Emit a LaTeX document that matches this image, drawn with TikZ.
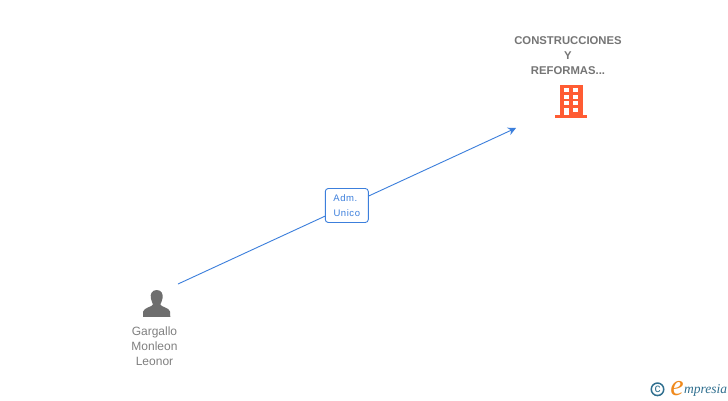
\documentclass[tikz,border=0pt]{standalone}
\usepackage{fontspec}
\setmainfont{Liberation Sans}
\newfontfamily\logofont{Liberation Serif}
\newfontfamily\spacedfont[LetterSpace=6]{Liberation Sans}
\definecolor{linkblue}{HTML}{3C7FDC}
\definecolor{labelgrey}{HTML}{808080}
\definecolor{firmgrey}{HTML}{757575}
\definecolor{darkgrey}{HTML}{6E6E6E}
\definecolor{bldg}{HTML}{FF5C33}
\definecolor{teal}{HTML}{2F6F8F}
\definecolor{logoorange}{HTML}{F08A1D}
\usetikzlibrary{arrows.meta}
\tikzset{
  linkline/.style={draw=linkblue,line width=0.9pt,-{Stealth[length=8pt,width=8pt]}},
  linkbox/.style={draw=linkblue,line width=0.9pt,rounded corners=3pt,fill=white,minimum width=43pt,minimum height=34pt,inner sep=0pt,align=center,text=linkblue,font=\spacedfont\fontsize{9.5}{15}\selectfont},
  persontext/.style={text=labelgrey,align=center,font=\fontsize{12}{15.3}\selectfont,inner sep=0pt},
  firmtext/.style={text=firmgrey,align=center,font=\fontsize{11.3}{15}\bfseries\selectfont,inner sep=0pt},
}
\begin{document}
\begin{tikzpicture}[x=1pt,y=-1pt]
\useasboundingbox (0,0) rectangle (728,400);
\fill[white] (0,0) rectangle (728,400);
\coordinate (src) at (178,284);
\coordinate (dst) at (516,128);
\draw[linkline] (src) -- (dst);
\node[linkbox] (role) at (346.8,205.5) {\hspace{-3pt}Adm.\\Unico};
\node[firmtext] (firm) at (568,55.6) {CONSTRUCCIONES\\Y\\REFORMAS...};
\node[persontext] (person) at (154.5,346.3) {Gargallo\\Monleon\\Leonor};
% building
\fill[bldg] (560,84.5) rectangle (582.7,115);
\fill[bldg] (555.3,115) rectangle (587,117.7);
\foreach \y in {88.3,94.5,101}{
  \fill[white] (564,\y) rectangle (569,\y+4);
  \fill[white] (573.3,\y) rectangle (578,\y+4);
}
\fill[white] (564,107.7) rectangle (569,115);
\fill[white] (573.3,107.7) rectangle (578,112);
% person
\fill[darkgrey] (156.7,290) .. controls (151.5,290) and (150.2,294.5) .. (150.8,298)
  .. controls (151.2,301) and (152.5,302.5) .. (153,304.5)
  .. controls (152,307) and (144,307.5) .. (143.2,311.5) -- (143,316.8) -- (170.3,316.8) -- (170,311.5)
  .. controls (169,307.5) and (161.2,307) .. (160.3,304.5)
  .. controls (161,302.5) and (162.2,301) .. (162.6,298)
  .. controls (163.2,294.5) and (161.8,290) .. (156.7,290) -- cycle;
% logo
\node[circle,draw=teal,line width=1.5pt,minimum size=12.5pt,inner sep=0pt,text=teal,font=\fontsize{12}{12}\selectfont] (copy) at (657.5,389.3) {c};
\node[text=logoorange,font=\logofont\itshape\fontsize{30}{30}\selectfont,inner sep=0pt,anchor=base] (loge) at (677,395) {e};
\node[text=teal,font=\logofont\itshape\fontsize{13.5}{14}\selectfont,inner sep=0pt,anchor=base west] (logt) at (684,393) {mpresia};
\end{tikzpicture}
\end{document}
